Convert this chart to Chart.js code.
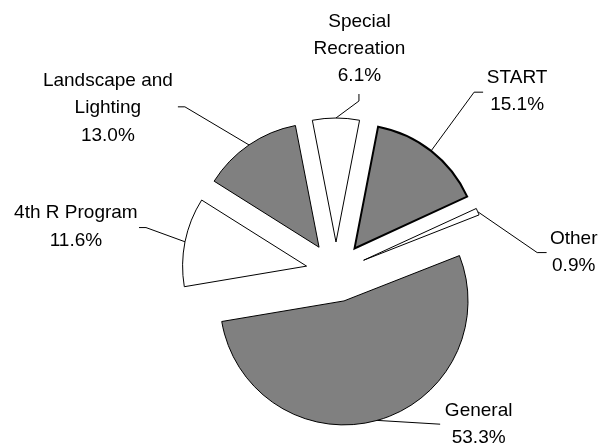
<!DOCTYPE html>
<html>
<head>
<meta charset="utf-8">
<script src="https://cdn.jsdelivr.net/npm/chart.js@4.4.0/dist/chart.umd.min.js"></script>
<style>
  html, body { margin: 0; padding: 0; background: #fff; }
  #chart { display: block; }
</style>
</head>
<body>
<canvas id="chart" width="610" height="444"></canvas>
<script>
// Slices in clockwise order, Special Recreation sits at 12 o'clock
const categories = ['Special Recreation', 'START', 'Other', 'General', '4th R Program', 'Landscape and Lighting'];
const shares = [6.1, 15.1, 0.9, 53.3, 11.6, 13.0];
// how the category names are broken on the chart
const labelLines = [
  ['Special', 'Recreation'],
  ['START'],
  ['Other'],
  ['General'],
  ['4th R Program'],
  ['Landscape and', 'Lighting']
];

const fills = ['#ffffff', '#808080', '#ffffff', '#808080', '#ffffff', '#808080'];
const borders = [1, 2, 1, 1, 1, 1];

const EXPLODE = 30;   // every slice pulled out the same distance
const LINE_H = 27.3;
const FONT = '19px "Liberation Sans", Arial, sans-serif';

// label placement, relative to the point where the leader touches the slice
// text: centre x / first baseline, bend + end: the leader line after the anchor
const labelLayout = [
  { text: [23.5, -91.3], bend: [23, -17], end: [23, -24] },
  { text: [86, -67.7], bend: [43, -58.7], end: [52, -58.7] },
  { text: [96, 32.5], bend: [59.5, 40.9], end: [68.9, 40.9] },
  { text: [101.5, -4.5], bend: [63, 3.8], end: [63, 3.8] },
  { text: [-109.1, -23.5], bend: [-39, -14.2], end: [-46, -14.2] },
  { text: [-141.1, -58.8], bend: [-64.1, -38.1], end: [-71.1, -38.1] }
];

// pull each wedge out along its own mid angle (chart.js offset also grows the radius)
const explodePlugin = {
  id: 'explode',
  beforeDatasetsDraw(chart) {
    const area = chart.chartArea;
    const cx = (area.left + area.right) / 2;
    const cy = (area.top + area.bottom) / 2;
    chart.getDatasetMeta(0).data.forEach(arc => {
      const mid = (arc.startAngle + arc.endAngle) / 2;
      arc.x = cx + Math.cos(mid) * EXPLODE;
      arc.y = cy + Math.sin(mid) * EXPLODE;
    });
  }
};

const labelPlugin = {
  id: 'sliceLabels',
  afterDatasetsDraw(chart) {
    const ctx = chart.ctx;
    ctx.save();
    ctx.strokeStyle = '#000';
    ctx.lineWidth = 1;
    ctx.fillStyle = '#000';
    ctx.font = FONT;
    ctx.textAlign = 'center';
    ctx.textBaseline = 'alphabetic';

    chart.getDatasetMeta(0).data.forEach((arc, i) => {
      const mid = (arc.startAngle + arc.endAngle) / 2;
      const ax = arc.x + Math.cos(mid) * arc.outerRadius;
      const ay = arc.y + Math.sin(mid) * arc.outerRadius;
      const lay = labelLayout[i];

      ctx.beginPath();
      ctx.moveTo(ax, ay);
      ctx.lineTo(ax + lay.bend[0], ay + lay.bend[1]);
      ctx.lineTo(ax + lay.end[0], ay + lay.end[1]);
      ctx.stroke();

      const lines = labelLines[i].concat([shares[i].toFixed(1) + '%']);
      lines.forEach((txt, k) => {
        ctx.fillText(txt, ax + lay.text[0], ay + lay.text[1] + k * LINE_H);
      });
    });
    ctx.restore();
  }
};

new Chart(document.getElementById('chart'), {
  type: 'pie',
  data: {
    labels: categories,
    datasets: [{
      data: shares,
      backgroundColor: fills,
      borderColor: '#000000',
      borderWidth: borders,
      borderJoinStyle: 'miter',
      radius: 124,
      clip: false
    }]
  },
  options: {
    responsive: false,
    animation: false,
    rotation: -11,
    layout: {
      padding: { left: 62, right: 0, top: 100, bottom: 0 }
    },
    plugins: {
      legend: { display: false },
      tooltip: { enabled: false }
    }
  },
  plugins: [explodePlugin, labelPlugin]
});
</script>
</body>
</html>
